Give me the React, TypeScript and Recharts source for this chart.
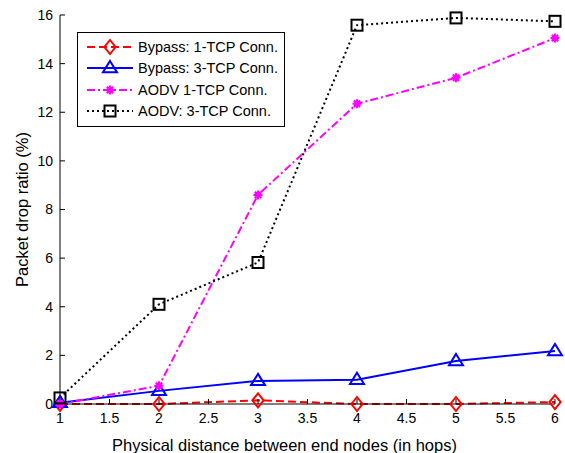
import { CartesianGrid, Legend, Line, LineChart, XAxis, YAxis } from "recharts";

const hops = [1, 2, 3, 4, 5, 6];
const bypass1 = [0, 0, 0.15, 0, 0, 0.08];
const bypass3 = [0.05, 0.54, 0.95, 1.0, 1.77, 2.18];
const aodv1 = [0, 0.75, 8.6, 12.35, 13.42, 15.05];
const aodv3 = [0.25, 4.1, 5.82, 15.58, 15.88, 15.74];

const xTicks = [1, 1.5, 2, 2.5, 3, 3.5, 4, 4.5, 5, 5.5, 6];
const yTicks = [0, 2, 4, 6, 8, 10, 12, 14, 16];

const series = [
  { key: "b1", name: "Bypass: 1-TCP Conn.", color: "#ff0000", dash: "8 4", marker: "diamond" },
  { key: "b3", name: "Bypass: 3-TCP Conn.", color: "#0000ff", dash: undefined, marker: "triangle" },
  { key: "a1", name: "AODV 1-TCP Conn.", color: "#ff00ff", dash: "8 3 2 3", marker: "star" },
  { key: "a3", name: "AODV: 3-TCP Conn.", color: "#000000", dash: "2 3", marker: "square" },
];

const data = hops.map((x, i) => ({ x, b1: bypass1[i], b3: bypass3[i], a1: aodv1[i], a3: aodv3[i] }));

function Marker({ type, cx, cy, color }: { type: string; cx: number; cy: number; color: string }) {
  const sw = 2;
  if (type === "diamond") {
    const s = 7;
    return <path d={`M${cx},${cy - s}L${cx + s * 0.8},${cy}L${cx},${cy + s}L${cx - s * 0.8},${cy}Z`} fill="none" stroke={color} strokeWidth={sw} />;
  }
  if (type === "triangle") {
    const s = 7;
    return <path d={`M${cx},${cy - s}L${cx + s},${cy + s * 0.6}L${cx - s},${cy + s * 0.6}Z`} fill="none" stroke={color} strokeWidth={sw} />;
  }
  if (type === "square") {
    const s = 5.5;
    return <rect x={cx - s} y={cy - s} width={2 * s} height={2 * s} fill="none" stroke={color} strokeWidth={sw} />;
  }
  const s = 4.5;
  const d = s * 0.7;
  return (
    <path
      d={`M${cx - s},${cy}L${cx + s},${cy}M${cx},${cy - s}L${cx},${cy + s}M${cx - d},${cy - d}L${cx + d},${cy + d}M${cx - d},${cy + d}L${cx + d},${cy - d}`}
      stroke={color}
      strokeWidth={2.2}
    />
  );
}

function LegendBox() {
  return (
    <div
      style={{
        border: "1.5px solid #000",
        background: "#fff",
        width: 206,
        padding: "3px 0 4px 0",
        fontFamily: "'Liberation Sans', Arial, sans-serif",
        fontSize: 14.5,
      }}
    >
      {series.map((s) => (
        <div key={s.key} style={{ display: "flex", alignItems: "center", height: 21.5 }}>
          <svg width={60} height={20} style={{ marginLeft: 7 }}>
            <line x1={2} y1={10} x2={48} y2={10} stroke={s.color} strokeWidth={2} strokeDasharray={s.dash} />
            <Marker type={s.marker} cx={25} cy={10} color={s.color} />
          </svg>
          <span style={{ marginLeft: -7, color: "#000" }}>{s.name}</span>
        </div>
      ))}
    </div>
  );
}

export default function App() {
  const font = "'Liberation Sans', Arial, sans-serif";
  return (
    <div style={{ position: "absolute", left: 0, top: 0, background: "#fff" }}>
      <LineChart width={565} height={453} data={data} margin={{ top: 15, right: 10, left: 0, bottom: 0 }}>
        <CartesianGrid stroke="none" />
        <XAxis
          dataKey="x"
          type="number"
          domain={[1, 6]}
          ticks={xTicks}
          interval={0}
          height={49}
          tickSize={-5}
          tickMargin={14}
          axisLine={{ stroke: "#000" }}
          tickLine={{ stroke: "#000" }}
          tick={{ fill: "#000", fontSize: 14, fontFamily: font }}
          label={{
            value: "Physical distance between end nodes (in hops)",
            position: "insideBottom",
            offset: 2,
            dx: -23,
            style: { fill: "#000", fontSize: 16.5, fontFamily: font },
          }}
        />
        <YAxis
          type="number"
          domain={[0, 16]}
          ticks={yTicks}
          interval={0}
          width={60}
          tickSize={-5}
          tickMargin={12}
          axisLine={{ stroke: "#000" }}
          tickLine={{ stroke: "#000" }}
          tick={{ fill: "#000", fontSize: 14, fontFamily: font }}
          label={{
            value: "Packet drop ratio (%)",
            angle: -90,
            position: "insideLeft",
            offset: 22,
            style: { fill: "#000", fontSize: 16.5, fontFamily: font, textAnchor: "middle" },
          }}
        />
        {series.map((s) => (
          <Line
            key={s.key}
            dataKey={s.key}
            name={s.name}
            type="linear"
            stroke={s.color}
            strokeWidth={2}
            strokeDasharray={s.dash}
            isAnimationActive={false}
            dot={(p: any) => <Marker key={`${s.key}-${p.index}`} type={s.marker} cx={p.cx} cy={p.cy} color={s.color} />}
            activeDot={false}
          />
        ))}
        <Legend
          layout="vertical"
          align="center"
          verticalAlign="middle"
          content={() => <LegendBox />}
          wrapperStyle={{ position: "absolute", left: 77, top: 32, width: "auto", height: "auto" }}
        />
      </LineChart>
    </div>
  );
}
